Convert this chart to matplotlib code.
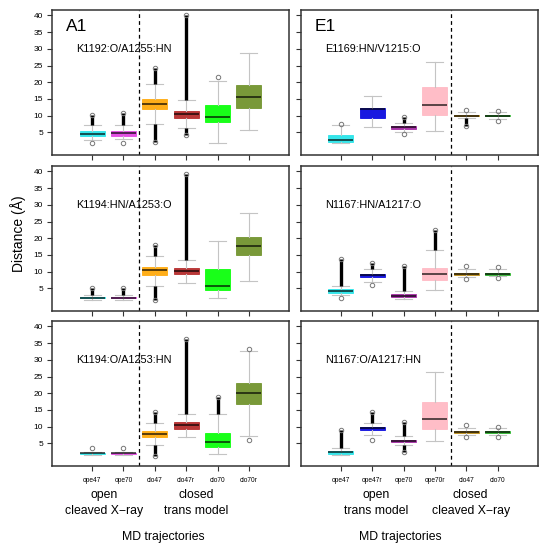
import matplotlib
matplotlib.use('Agg')
import matplotlib.pyplot as plt
from matplotlib.transforms import blended_transform_factory

plt.rcParams['font.family'] = ['Liberation Sans', 'DejaVu Sans']

# categories
a1_labels = ['ope47', 'ope70', 'clo47', 'clo47r', 'clo70', 'clo70r']
e1_labels = ['ope47', 'ope47r', 'ope70', 'ope70r', 'clo47', 'clo70']
a1_colors = ['#1fe3e8', '#e03ee0', '#ffa500', '#b22222', '#00ff00', '#6b8e23']
e1_colors = ['#1fe3e8', '#0000dd', '#a020a0', '#ffb6c1', '#b8860b', '#22b022']

# boxes: [whisker low, q1, median, q3, whisker high]
k1192_box = [[2.8, 3.9, 4.5, 5.3, 7.2], [3.0, 4.0, 4.7, 5.4, 7.2],
             [7.5, 11.9, 13.6, 14.9, 19.4], [6.3, 9.4, 10.4, 11.5, 14.7],
             [1.7, 8.2, 9.5, 13.1, 20.4], [5.8, 12.2, 15.7, 19.1, 28.6]]
k1192_out_hi = [10.1, 10.8, 24.3, 40.0, 21.5, None]
k1192_out_lo = [1.9, 1.7, 2.2, 4.2, None, None]

k1194hn_box = [[1.6, 2.0, 2.2, 2.4, 3.1], [1.6, 2.0, 2.2, 2.4, 3.0],
               [5.6, 8.9, 10.5, 11.3, 14.7], [6.7, 9.3, 10.1, 11.0, 13.4],
               [2.0, 4.4, 5.7, 10.7, 19.2], [7.1, 14.9, 17.7, 20.5, 27.5]]
k1194hn_out_hi = [5.0, 5.2, 18.1, 39.3, None, None]
k1194hn_out_lo = [None, None, 1.4, None, None, None]

k1194o_box = [[1.6, 1.8, 2.0, 2.2, 2.5], [1.6, 1.8, 2.0, 2.2, 2.5],
              [4.4, 6.9, 7.9, 8.7, 11.1], [6.8, 9.4, 10.4, 11.3, 13.8],
              [1.9, 3.9, 5.4, 8.0, 13.9], [7.2, 16.7, 20.0, 23.2, 32.7]]
k1194o_out_hi = [3.6, 3.5, 14.5, 36.3, 19.0, 33.3]
k1194o_out_lo = [None, None, 1.3, None, None, 6.0]

e1169_box = [[1.8, 2.2, 2.7, 4.3, 7.2], [6.5, 9.3, 11.9, 12.4, 15.9],
             [5.1, 6.1, 6.5, 6.9, 7.9], [5.5, 10.2, 13.1, 18.7, 26.1],
             [9.2, 9.8, 10.05, 10.3, 11.0], [9.0, 9.8, 10.05, 10.3, 11.0]]
e1169_out_hi = [7.5, None, 9.5, None, 11.6, 11.5]
e1169_out_lo = [None, None, 4.6, None, 7.0, 8.5]

n1167hn_box = [[3.0, 3.6, 4.1, 4.7, 5.7], [7.0, 8.4, 8.9, 9.4, 10.9],
               [1.8, 2.4, 2.6, 3.2, 4.1], [4.4, 7.4, 9.3, 11.2, 16.5],
               [8.5, 9.1, 9.4, 9.7, 10.8], [8.7, 9.1, 9.4, 9.7, 10.8]]
n1167hn_out_hi = [13.7, 12.7, 11.6, 22.6, 11.8, 11.5]
n1167hn_out_lo = [2.0, 5.9, None, None, 7.9, 8.2]

n1167o_box = [[1.6, 1.9, 2.3, 2.6, 3.6], [7.6, 8.9, 9.5, 10.0, 11.2],
              [4.4, 5.3, 5.7, 6.1, 7.2], [5.6, 9.3, 12.4, 17.5, 26.5],
              [7.4, 8.0, 8.3, 8.6, 9.6], [7.6, 8.2, 8.5, 8.8, 9.6]]
n1167o_out_hi = [9.1, 14.5, 11.3, None, 10.4, 10.0]
n1167o_out_lo = [None, 6.1, 2.3, None, 6.8, 6.9]

panels = [
    ('A1', 'K1192:O/A1255:HN', k1192_box, k1192_out_hi, k1192_out_lo, 0, 0),
    ('', 'K1194:HN/A1253:O', k1194hn_box, k1194hn_out_hi, k1194hn_out_lo, 1, 0),
    ('', 'K1194:O/A1253:HN', k1194o_box, k1194o_out_hi, k1194o_out_lo, 2, 0),
    ('E1', 'E1169:HN/V1215:O', e1169_box, e1169_out_hi, e1169_out_lo, 0, 1),
    ('', 'N1167:HN/A1217:O', n1167hn_box, n1167hn_out_hi, n1167hn_out_lo, 1, 1),
    ('', 'N1167:O/A1217:HN', n1167o_box, n1167o_out_hi, n1167o_out_lo, 2, 1),
]

fig = plt.figure(figsize=(5.48, 5.5), dpi=100)
col_x = [52 / 548, 300.7 / 548]
row_top = [10, 166, 321]
ax_w = 237 / 548
ax_h = 144.5 / 550

axes_grid = {}
for tag, title, box, out_hi, out_lo, r, c in panels:
    ax = fig.add_axes([col_x[c], 1 - (row_top[r] + 144.5) / 550, ax_w, ax_h])
    axes_grid[(r, c)] = ax
    colors = a1_colors if c == 0 else e1_colors
    labels = a1_labels if c == 0 else e1_labels
    stats = []
    for i, b in enumerate(box):
        stats.append(dict(whislo=b[0], q1=b[1], med=b[2], q3=b[3], whishi=b[4],
                          fliers=[], label=labels[i]))
    pos = list(range(1, 7))
    bp = ax.bxp(stats, positions=pos, widths=0.8, patch_artist=True,
                showfliers=False, capwidths=0.55,
                whiskerprops=dict(color='#c4c4c4', lw=0.8),
                capprops=dict(color='#c4c4c4', lw=0.8),
                medianprops=dict(color='black', lw=1.4, alpha=0.65))
    for patch, col in zip(bp['boxes'], colors):
        patch.set_facecolor(col)
        patch.set_edgecolor(col)
        patch.set_alpha(0.9)
        patch.set_linewidth(0.6)
    # outliers: dense streaks drawn as thick lines, extreme value as open circle
    for i in range(6):
        for end, wh in ((out_hi[i], box[i][4]), (out_lo[i], box[i][0])):
            if end is None:
                continue
            if abs(end - wh) > 1.5:
                ax.vlines(pos[i], min(end, wh), max(end, wh), color='black', lw=2.4, zorder=3)
            ax.plot(pos[i], end, 'o', mfc='none', mec='#777777', ms=3.2, mew=0.7, zorder=4)
    ax.axvline(2.5 if c == 0 else 4.5, color='black', ls=(0, (3, 2.5)), lw=0.9)
    ax.set_xlim(-0.28, 7.28)
    ax.set_ylim(-1.6, 41.6)
    ax.set_yticks([5, 10, 15, 20, 25, 30, 35, 40])
    ax.set_xticks(pos)
    ax.tick_params(direction='out', length=3.4, width=0.8, color='#333333',
                   labelsize=6, pad=3)
    if r == 2:
        ax.set_xticklabels(labels, fontsize=4.8)
        ax.tick_params(axis='x', pad=5)
    else:
        ax.set_xticklabels([])
    if c == 1:
        ax.set_yticklabels([])
    for s in ax.spines.values():
        s.set_color('#333333')
        s.set_linewidth(1.1)
    if tag:
        ax.text(0.18, 36.8, tag, fontsize=12.5, va='center', ha='left')
    ax.text(0.5, 29.8, title, fontsize=7.8, va='center', ha='left')

# group labels under the bottom panels
left_groups = [(1.37, 'open', 'cleaved X\u2212ray'), (4.31, 'closed', 'trans model')]
right_groups = [(2.12, 'open', 'trans model'), (5.14, 'closed', 'cleaved X\u2212ray')]
md_x = [3.26, 2.90]
for c, groups in ((0, left_groups), (1, right_groups)):
    ax = axes_grid[(2, c)]
    tr = blended_transform_factory(ax.transData, fig.transFigure)
    for gx, l1, l2 in groups:
        ax.text(gx, 1 - 495 / 550, l1, transform=tr, ha='center', va='center', fontsize=8.8)
        ax.text(gx, 1 - 510.7 / 550, l2, transform=tr, ha='center', va='center', fontsize=8.8)
    ax.text(md_x[c], 1 - 536.7 / 550, 'MD trajectories', transform=tr,
            ha='center', va='center', fontsize=8.8)

fig.text(18.3 / 548, 1 - 234 / 550, 'Distance (Å)', rotation=90, ha='center',
         va='center', fontsize=10)

fig.savefig('out.png', dpi=100)
